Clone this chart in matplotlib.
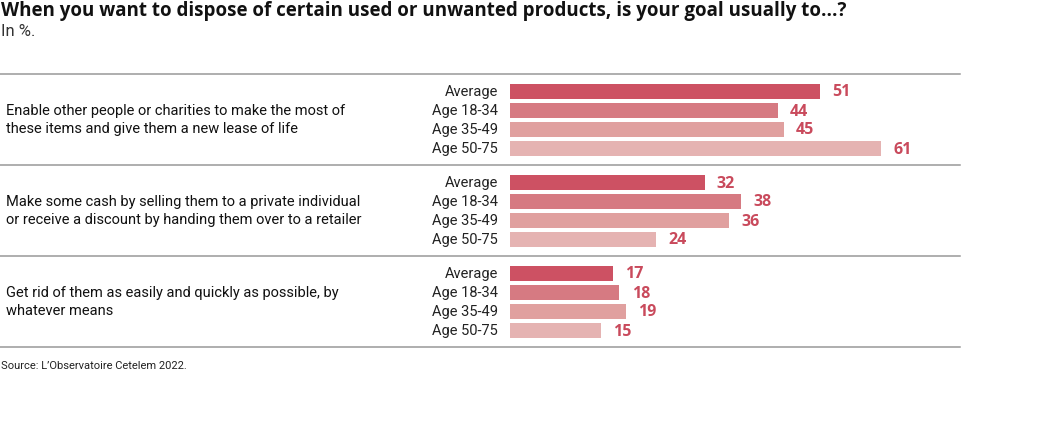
import matplotlib
matplotlib.use("Agg")
import matplotlib.pyplot as plt
from matplotlib.lines import Line2D

questions = [
    "Enable other people or charities to make the most of\nthese items and give them a new lease of life",
    "Make some cash by selling them to a private individual\nor receive a discount by handing them over to a retailer",
    "Get rid of them as easily and quickly as possible, by\nwhatever means",
]
groups = ["Average", "Age 18-34", "Age 35-49", "Age 50-75"]
values = [
    [51, 44, 45, 61],
    [32, 38, 36, 24],
    [17, 18, 19, 15],
]
colors = ["#cd5163", "#d67a82", "#e0a09f", "#e5b3b2"]
label_color = "#c94a5c"

W, H = 1052, 422
fig = plt.figure(figsize=(W / 100, H / 100), dpi=100, facecolor="w")

# axes spanning the bar area, y in pixel units from top
x0, x1 = 510, 960
top, bottom = 74, 347
ax = fig.add_axes([x0 / W, 1 - bottom / H, (x1 - x0) / W, (bottom - top) / H])
ax.set_xlim(0, (x1 - x0) / 6.08)
ax.set_ylim(bottom, top)
ax.axis("off")

body = "Roboto"
for g, q in enumerate(questions):
    ys = [top + 17 + 19 * i + 91 * g for i in range(len(groups))]
    ax.barh(ys, values[g], height=15, color=colors, left=0)
    for y, v, name in zip(ys, values[g], groups):
        ax.text(v + 2, y + 1.5, str(v), color=label_color, fontsize=11.5,
                fontweight="bold", family="Open Sans", va="center", ha="left")
        fig.text(498 / W, 1 - (y + 1) / H, name, fontsize=10.5, family=body,
                 ha="right", va="center", color="#222222")
    fig.text(6 / W, 1 - (top + 46 + 91 * g) / H, q, fontsize=10.5, family=body,
             ha="left", va="center", color="#111111", linespacing=1.3)

for yl in [74, 165, 256, 347]:
    fig.add_artist(Line2D([0, 960 / W], [1 - yl / H] * 2, color="#999999", lw=1.1))

fig.text(1 / W, 1 - 11 / H, "When you want to dispose of certain used or unwanted products, is your goal usually to...?",
         fontsize=13.5, fontweight="bold", family="Open Sans", va="center", ha="left", color="#111111")
fig.text(1 / W, 1 - 32 / H, "In %.", fontsize=12, family=body, va="center", ha="left",
         color="#333333")
fig.text(1 / W, 1 - 366 / H, "Source: L\u2019Observatoire Cetelem 2022.", fontsize=8, family=body,
         va="center", ha="left", color="#222222")

fig.savefig("out.png", dpi=100, facecolor="w")
